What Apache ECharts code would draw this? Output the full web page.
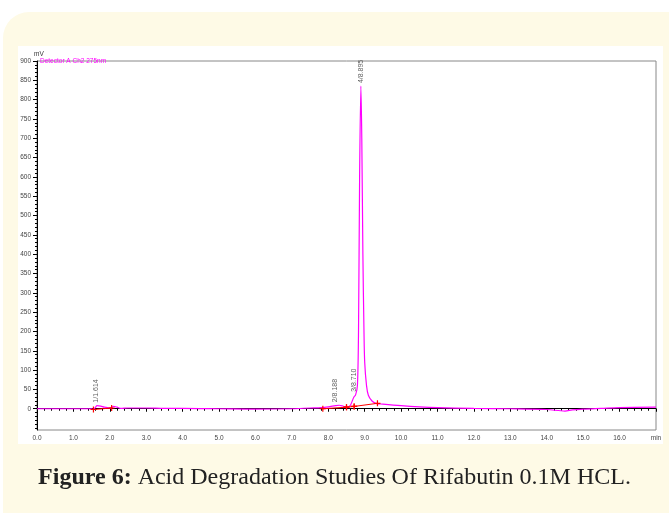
<!DOCTYPE html>
<html><head><meta charset="utf-8">
<script src="https://cdn.jsdelivr.net/npm/echarts@6/dist/echarts.min.js"></script>
<style>html,body{margin:0;padding:0;background:#fff}#c{width:669px;height:513px}</style>
</head><body><div id="c"></div>
<script>
// chromatogram trace: time (min) and signal (mV)
const traceTime = [0.0,0.5,1.0,1.5,1.55,1.6,1.65,1.75,1.85,2.0,2.05,2.1,2.2,2.3,2.5,3.0,3.5,4.0,5.0,6.0,7.0,7.5,7.8,8.0,8.2,8.3,8.4,8.5,8.6,8.7,8.75,8.8,8.83,8.86,8.895,8.92,8.95,8.98,9.0,9.05,9.1,9.2,9.3,9.5,10.0,10.5,11.0,12.0,13.0,14.0,14.5,14.7,15.0,15.5,16.0,17.0];
const traceSignal = [0,0,0,0,-2,3,8,7,4,2,3,6,4,1,2,2,1,1,0,-1,0,2,3,5,8,9,7,4,8,30,36,60,200,600,835,700,400,200,120,60,35,20,14,12,8,5,3,1,0,-2,-6,-3,-1,1,3,4];
// peak labels
const peakTimes = [1.614, 8.188, 8.710, 8.895];
const peakHeights = [8, 9, 36, 835];
const peakLabels = ["1/1.614", "2/8.188", "3/8.710", "4/8.895"];
// integration baselines (start/end pairs)
const baseStartT = [1.55, 7.85, 8.5, 8.71];
const baseStartY = [-2, 0, 4, 6];
const baseEndT = [2.05, 8.5, 8.71, 9.35];
const baseEndY = [2, 4, 6, 14];
// axis ticks
const yLabelValues = [0,50,100,150,200,250,300,350,400,450,500,550,600,650,700,750,800,850,900];
const yMinorValues = [-50,-40,-30,-20,-10,0,10,20,30,40,50,60,70,80,90,100,110,120,130,140,150,160,170,180,190,200,210,220,230,240,250,260,270,280,290,300,310,320,330,340,350,360,370,380,390,400,410,420,430,440,450,460,470,480,490,500,510,520,530,540,550,560,570,580,590,600,610,620,630,640,650,660,670,680,690,700,710,720,730,740,750,760,770,780,790,800,810,820,830,840,850,860,870,880,890,900];
const xTickValues = [0,1,2,3,4,5,6,7,8,9,10,11,12,13,14,15,16,17];
const caption = ["Figure 6:", "Acid Degradation Studies Of Rifabutin 0.1M HCL."];

const traceData = traceTime.map((t,i)=>[t, traceSignal[i]]);
const baseSeries = baseStartT.map((t,i)=>({
  type:'line', xAxisIndex:0, yAxisIndex:0, silent:true,
  data:[[t, baseStartY[i]],[baseEndT[i], baseEndY[i]]],
  lineStyle:{color:'#ff0000', width:1},
  symbol:'path://M4,0h2v10h-2zM0,4h10v2h-10z', symbolSize:6,
  itemStyle:{color:'#ff0000'}, z:4
}));
const axisFont = {fontFamily:'Liberation Sans', fontSize:6.5, color:'#444'};

const chart = echarts.init(document.getElementById('c'), null, {renderer:'canvas'});
chart.setOption({
  animation:false,
  backgroundColor:'#ffffff',
  graphic:[
    {type:'rect', shape:{x:3,y:12,width:700,height:540,r:26}, style:{fill:'#fefae6'}, z:-10},
    {type:'rect', shape:{x:18,y:46,width:645,height:398}, style:{fill:'#ffffff'}, z:-9},
    {type:'text', left:34, top:51, style:{text:'mV', fontFamily:'Liberation Sans', fontSize:6.5, fill:'#333'}},
    {type:'text', left:40, top:58, style:{text:'Detector A Ch2 275nm', fontFamily:'Liberation Sans', fontSize:6.5, fill:'#ff00ff'}},
    {type:'text', left:'center', top:466, style:{
      rich:{b:{fontFamily:'Liberation Serif', fontWeight:'bold', fontSize:24, fill:'#222'},
            n:{fontFamily:'Liberation Serif', fontSize:24, fill:'#222'}},
      text:'{b|'+caption[0]+'}{n| '+caption[1]+'}'}}
  ],
  grid:{left:37, top:61, right:13, bottom:83, show:true, borderColor:'#888', borderWidth:1},
  xAxis:[{
    type:'value', min:0, max:17, interval:1,
    axisLine:{lineStyle:{color:'#000', width:1}},
    axisTick:{length:3, lineStyle:{color:'#000'}},
    minorTick:{show:true, splitNumber:5, length:2, lineStyle:{color:'#000'}},
    splitLine:{show:false},
    axisLabel:{...axisFont, margin:5, showMaxLabel:true, formatter:v=> v===17 ? 'min' : v.toFixed(1)}
  }],
  yAxis:[{
    type:'value', min:-55, max:900,
    axisLine:{show:true, lineStyle:{color:'#000', width:1}},
    axisTick:{show:true, length:4, customValues:yLabelValues, lineStyle:{color:'#000'}},
    splitLine:{show:false},
    axisLabel:{...axisFont, margin:6, customValues:yLabelValues, formatter:v=>String(v)}
  },{
    type:'value', min:-55, max:900, position:'left',
    axisLine:{show:false},
    axisTick:{show:true, length:2, customValues:yMinorValues, lineStyle:{color:'#000'}},
    axisLabel:{show:false, customValues:yMinorValues}, splitLine:{show:false}
  }],
  series:[
    {type:'line', data:traceData, showSymbol:false, symbol:'none', smooth:0.3,
     lineStyle:{color:'#ff00ff', width:1.2}, z:3, silent:true},
    ...baseSeries,
    {type:'scatter', data:peakTimes.map((t,i)=>[t, peakHeights[i], peakLabels[i]]),
     symbolSize:0, silent:true,
     label:{show:true, position:'top', rotate:90, align:'left', verticalAlign:'middle', distance:3,
            formatter:p=>p.data[2], fontFamily:'Liberation Sans', fontSize:7, color:'#333'}}
  ]
});
</script></body></html>
